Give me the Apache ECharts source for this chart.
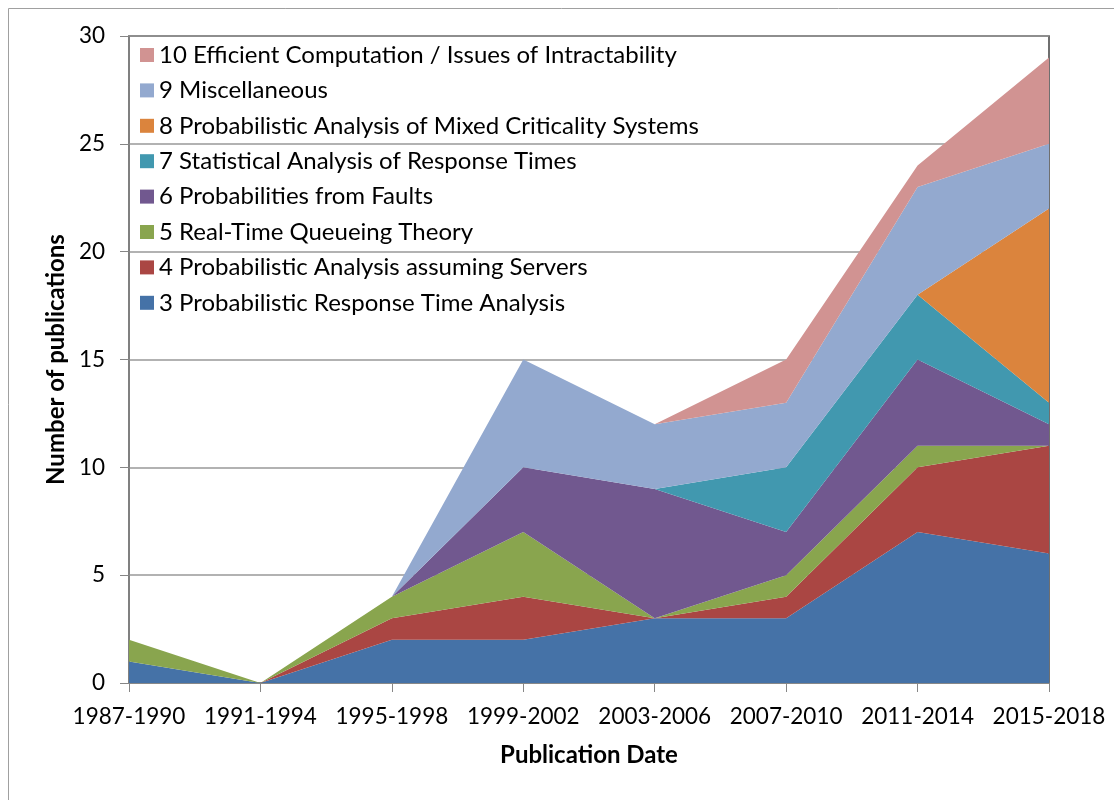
<!DOCTYPE html>
<html><head><meta charset="utf-8">
<script src="https://cdn.jsdelivr.net/npm/echarts@6/dist/echarts.min.js"></script>
<style>html,body{margin:0;padding:0;background:#fff}#c{width:1114px;height:800px}</style>
</head><body><div id="c"></div>
<script>
const categories = ['1987-1990','1991-1994','1995-1998','1999-2002','2003-2006','2007-2010','2011-2014','2015-2018'];
const seriesNames = [
  '3 Probabilistic Response Time Analysis',
  '4 Probabilistic Analysis assuming Servers',
  '5 Real-Time Queueing Theory',
  '6 Probabilities from Faults',
  '7 Statistical Analysis of Response Times',
  '8 Probabilistic Analysis of Mixed Criticality Systems',
  '9 Miscellaneous',
  '10 Efficient Computation / Issues of Intractability'
];
const s3  = [1, 0, 2, 2, 3, 3, 7, 6];
const s4  = [0, 0, 1, 2, 0, 1, 3, 5];
const s5  = [1, 0, 1, 3, 0, 1, 1, 0];
const s6  = [0, 0, 0, 3, 6, 2, 4, 1];
const s7  = [0, 0, 0, 0, 0, 3, 3, 1];
const s8  = [0, 0, 0, 0, 0, 0, 0, 9];
const s9  = [0, 0, 0, 5, 3, 3, 5, 3];
const s10 = [0, 0, 0, 0, 0, 2, 1, 4];
const seriesData = [s3, s4, s5, s6, s7, s8, s9, s10];
const colors = ['#4572A7','#AA4643','#89A54E','#71588F','#4198AF','#DB843D','#93A9CF','#D19392'];
const yTicks = [0, 5, 10, 15, 20, 25, 30];

const FONT = 'Lato';
const chart = echarts.init(document.getElementById('c'));
chart.setOption({
  animation: false,
  color: colors,
  textStyle: { fontFamily: FONT },
  graphic: [{
    type: 'rect', silent: true, z: -10,
    shape: { x: 8.5, y: 8.5, width: 1200, height: 1000 },
    style: { fill: 'none', stroke: '#a0a0a0', lineWidth: 1 }
  }],
  grid: { left: 129, right: 65, top: 36, bottom: 117, show: true, borderColor: '#404040', borderWidth: 1.5, backgroundColor: 'transparent' },
  legend: {
    orient: 'vertical', left: 135, top: 38,
    data: seriesNames.slice().reverse(),
    icon: 'rect', itemWidth: 14, itemHeight: 14, itemGap: 11.4,
    textStyle: { fontFamily: FONT, fontSize: 24, color: '#000', lineHeight: 24 }
  },
  xAxis: {
    type: 'category', data: categories, boundaryGap: false,
    axisLine: { lineStyle: { color: '#868686', width: 1.5 } },
    axisTick: { show: true, length: 9, interval: 0, lineStyle: { color: '#868686' } },
    axisLabel: { fontSize: 22.5, color: '#000', margin: 22, interval: 0, fontFamily: FONT },
    name: 'Publication Date', nameLocation: 'middle', nameGap: 60,
    nameTextStyle: { fontSize: 24, fontWeight: 'bold', color: '#000', fontFamily: FONT }
  },
  yAxis: {
    type: 'value', min: yTicks[0], max: yTicks[yTicks.length-1], interval: 5,
    axisLine: { show: true, lineStyle: { color: '#868686', width: 1.5 } },
    axisTick: { show: true, length: 9, lineStyle: { color: '#868686' } },
    axisLabel: { fontSize: 22.5, color: '#000', margin: 24, fontFamily: FONT },
    splitLine: { lineStyle: { color: '#999', width: 1.5 } },
    name: 'Number of publications', nameLocation: 'middle', nameGap: 58, nameRotate: 90,
    nameTextStyle: { fontSize: 24, fontWeight: 'bold', color: '#000', fontFamily: FONT }
  },
  series: seriesData.map((d, i) => ({
    name: seriesNames[i], type: 'line', stack: 'total', data: d,
    symbol: 'none', showSymbol: false,
    lineStyle: { width: 0 },
    areaStyle: { color: colors[i], opacity: 1 },
    emphasis: { disabled: true }
  }))
});
</script></body></html>
